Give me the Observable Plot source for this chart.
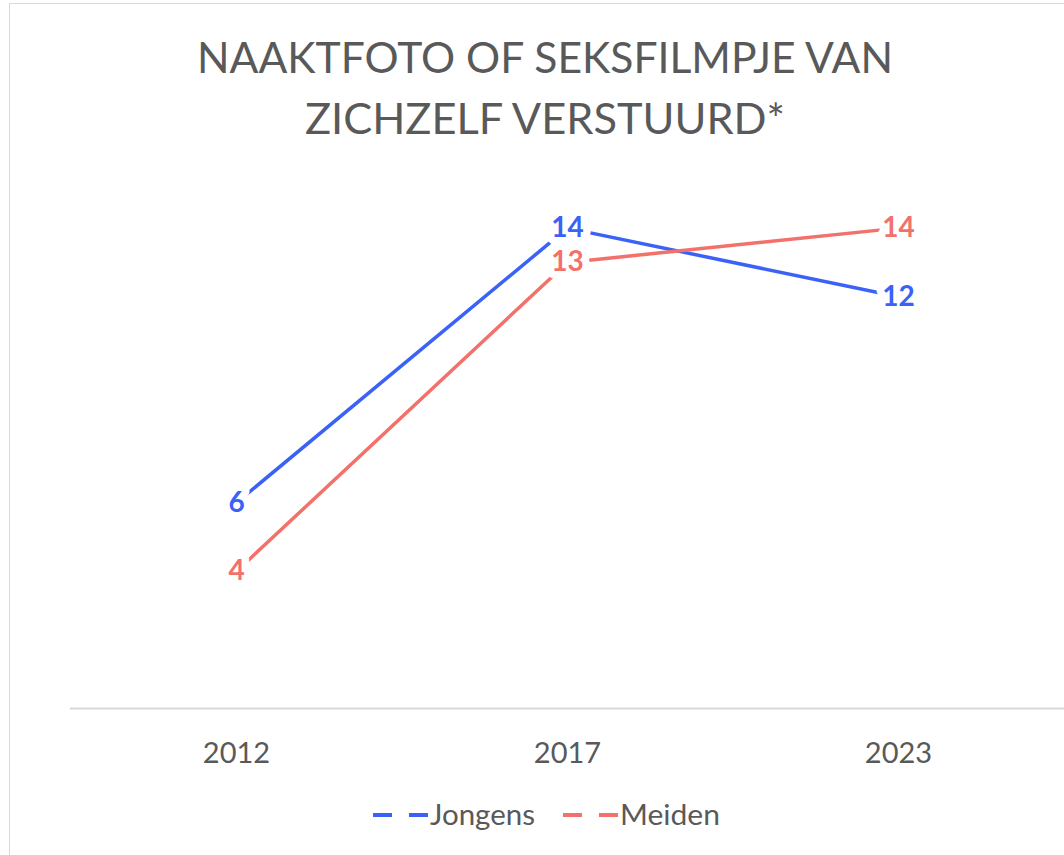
<!DOCTYPE html>
<html>
<head>
<meta charset="utf-8">
<script src="https://cdn.jsdelivr.net/npm/d3@7"></script>
<script src="https://cdn.jsdelivr.net/npm/@observablehq/plot@0.6"></script>
<style>
  html, body { margin: 0; padding: 0; background: #fff; overflow: hidden; }
  #wrap { position: relative; width: 1064px; height: 855px; overflow: hidden; font-family: Lato, "Open Sans", sans-serif; }
  #frame { position: absolute; left: 9px; top: 3px; width: 1200px; height: 1000px; border: 1.5px solid #d9d9d9; box-sizing: border-box; }
  #title { position: absolute; left: 0; top: 0; }
  #chart { position: absolute; left: 0; top: 0; }
  #legend { position: absolute; left: 0; top: 790px; }
</style>
</head>
<body>
<div id="wrap">
  <div id="frame"></div>
  <div id="chart"></div>
  <svg id="title" width="1064" height="150"></svg>
  <svg id="legend" width="1064" height="50"></svg>
</div>
<script>
// ---- data ----
const titleLines = ["NAAKTFOTO OF SEKSFILMPJE VAN", "ZICHZELF VERSTUURD*"];
const years = ["2012", "2017", "2023"];
const seriesNames = ["Jongens", "Meiden"];
const jongens = [6, 14, 12];
const meiden = [4, 13, 14];
const seriesColors = ["#3a62f6", "#f3716b"];

const data = [];
years.forEach((y, i) => {
  data.push({year: y, series: seriesNames[0], value: jongens[i]});
  data.push({year: y, series: seriesNames[1], value: meiden[i]});
});

const colorScale = {domain: seriesNames, range: seriesColors};

// ---- title ----
const tsvg = d3.select("#title");
const titleWidths = [696, 480];
const titleBaselines = [73, 134];
titleLines.forEach((t, i) => {
  tsvg.append("text")
    .attr("x", 545).attr("y", titleBaselines[i])
    .attr("text-anchor", "middle")
    .attr("font-family", "Lato, sans-serif")
    .attr("font-size", 43)
    .attr("fill", "#595959")
    .attr("textLength", titleWidths[i])
    .attr("lengthAdjust", "spacingAndGlyphs")
    .text(t);
});

// ---- chart ----
const chart = Plot.plot({
  width: 1064,
  height: 790,
  marginLeft: 70,
  marginRight: 0,
  marginTop: 159,
  marginBottom: 82,
  style: {fontFamily: "Lato, sans-serif", background: "transparent"},
  x: {type: "point", domain: years, padding: 0.5, label: null},
  y: {domain: [0, 16], axis: null},
  color: colorScale,
  marks: [
    Plot.ruleY([0], {stroke: "#d9d9d9", strokeWidth: 2}),
    Plot.axisX({tickSize: 0, tickPadding: 34, fontSize: 29, color: "#595959", label: null}),
    Plot.line(data, {x: "year", y: "value", z: "series", stroke: "series", strokeWidth: 3.5}),
    Plot.text(data, {x: "year", y: "value", text: d => String(d.value), fill: "series",
      stroke: "white", strokeWidth: 15, strokeLinejoin: "round",
      fontSize: 28, fontWeight: "bold"})
  ]
});
document.getElementById("chart").appendChild(chart);

// ---- legend ----
const lsvg = d3.select("#legend");
const legendX = [373, 563];
const legendTextW = [105, 100];
seriesNames.forEach((name, i) => {
  const g = lsvg.append("g").attr("transform", `translate(${legendX[i]},25)`);
  g.append("line").attr("x1", 0).attr("x2", 55).attr("y1", 0).attr("y2", 0)
    .attr("stroke", seriesColors[i]).attr("stroke-width", 4)
    .attr("stroke-dasharray", "19 17");
  g.append("text").attr("x", 57).attr("y", 10)
    .attr("font-family", "Lato, sans-serif").attr("font-size", 28)
    .attr("fill", "#595959")
    .attr("textLength", legendTextW[i]).attr("lengthAdjust", "spacingAndGlyphs")
    .text(name);
});
</script>
</body>
</html>
